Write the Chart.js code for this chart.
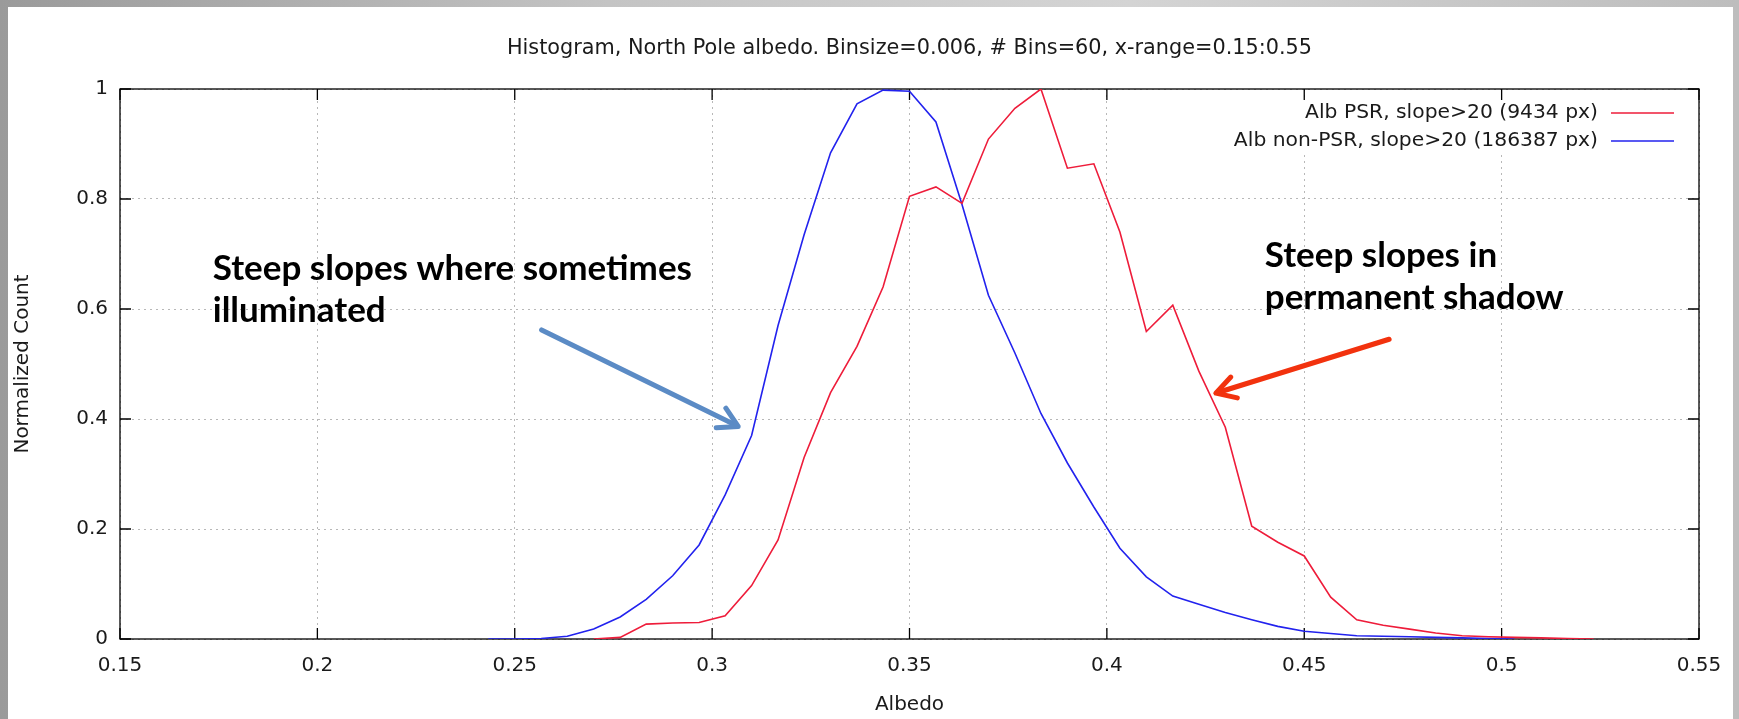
<!DOCTYPE html>
<html lang="en">
<head>
<meta charset="UTF-8">
<title>Histogram, North Pole albedo</title>
<script src="https://cdn.jsdelivr.net/npm/chart.js"></script>
<style>
    body {
        margin: 0;
        width: 1739px;
        height: 719px;
        overflow: hidden;
        background: linear-gradient(90deg, #9a9a9a 0%, #c4c4c4 35%, #d4d4d4 65%, #bdbdbd 100%);
    }
    .panel {
        position: absolute;
        left: 8px;
        top: 7px;
        width: 1725px;
        height: 712px;
        background: #fff;
    }
    canvas {
        position: absolute;
        left: 0;
        top: 0;
    }
</style>
</head>
<body>
<div class="panel"></div>
<canvas id="histChart" width="1739" height="719"></canvas>
<script>
    // bin positions (albedo), 60 bins over 0.15..0.55
    const albedo = [0.2433, 0.25, 0.2567, 0.2633, 0.27, 0.2767, 0.2833, 0.29, 0.2967, 0.3033,
                    0.31, 0.3167, 0.3233, 0.33, 0.3367, 0.3433, 0.35, 0.3567, 0.3633, 0.37,
                    0.3767, 0.3833, 0.39, 0.3967, 0.4033, 0.41, 0.4167, 0.4233, 0.43, 0.4367,
                    0.4433, 0.45, 0.4567, 0.4633, 0.47, 0.4767, 0.4833, 0.49, 0.4967, 0.5033,
                    0.51, 0.5167, 0.5233];
    // normalized counts, PSR (red)
    const psrCounts = [null, null, null, null, 0, 0.003, 0.027, 0.029, 0.030, 0.042,
                       0.097, 0.18, 0.33, 0.448, 0.532, 0.64, 0.805, 0.822, 0.792, 0.909,
                       0.965, 1.0, 0.856, 0.864, 0.74, 0.559, 0.607, 0.487, 0.385, 0.205,
                       0.176, 0.151, 0.076, 0.035, 0.025, 0.018, 0.011, 0.006, 0.004, 0.003,
                       0.002, 0.001, 0];
    // normalized counts, non-PSR (blue)
    const nonPsrCounts = [0, 0, 0.001, 0.005, 0.018, 0.04, 0.072, 0.115, 0.171, 0.262,
                          0.37, 0.57, 0.735, 0.884, 0.973, 0.998, 0.996, 0.94, 0.79, 0.625,
                          0.52, 0.41, 0.32, 0.24, 0.165, 0.113, 0.078, 0.063, 0.048, 0.035,
                          0.023, 0.014, 0.010, 0.006, 0.005, 0.004, 0.003, 0.002, 0.001, 0,
                          null, null, null];

    const xTicks = [0.15, 0.2, 0.25, 0.3, 0.35, 0.4, 0.45, 0.5, 0.55];
    const xTickLabels = ['0.15', '0.2', '0.25', '0.3', '0.35', '0.4', '0.45', '0.5', '0.55'];
    const yTicks = [0, 0.2, 0.4, 0.6, 0.8, 1];
    const yTickLabels = ['0', '0.2', '0.4', '0.6', '0.8', '1'];

    const seriesLabels = ['Alb PSR, slope>20 (9434 px)', 'Alb non-PSR, slope>20 (186387 px)'];
    const chartTitle = 'Histogram, North Pole albedo. Binsize=0.006, # Bins=60, x-range=0.15:0.55';

    // callouts placed in data units
    const notes = [
        { lines: ['Steep slopes where sometimes', 'illuminated'], x: 0.1735, y: 0.652 },
        { lines: ['Steep slopes in', 'permanent shadow'], x: 0.44, y: 0.677 }
    ];
    const arrows = [
        { from: [0.2568, 0.562], to: [0.3066, 0.3865], color: '#5b8bc5' },
        { from: [0.4715, 0.545], to: [0.4276, 0.447], color: '#f2320e' }
    ];

    const RED = '#ee1c3a';
    const BLUE = '#2222ee';
    const TEXT = '#1a1a1a';

    function toPoints(values) {
        return albedo.map((a, i) => ({ x: a, y: values[i] }));
    }

    function drawArrow(ctx, x0, y0, x1, y1, color) {
        const ang = Math.atan2(y1 - y0, x1 - x0);
        const head = 22, spread = 0.52;
        ctx.save();
        ctx.strokeStyle = color;
        ctx.lineWidth = 5;
        ctx.lineCap = 'round';
        ctx.lineJoin = 'round';
        ctx.beginPath();
        ctx.moveTo(x0, y0);
        ctx.lineTo(x1 - 3 * Math.cos(ang), y1 - 3 * Math.sin(ang));
        ctx.stroke();
        ctx.beginPath();
        ctx.moveTo(x1 - head * Math.cos(ang - spread), y1 - head * Math.sin(ang - spread));
        ctx.lineTo(x1, y1);
        ctx.lineTo(x1 - head * Math.cos(ang + spread), y1 - head * Math.sin(ang + spread));
        ctx.stroke();
        ctx.restore();
    }

    const gnuplotLook = {
        id: 'gnuplotLook',
        beforeDatasetsDraw(chart) {
            const { ctx, chartArea: a, scales: { x, y } } = chart;
            ctx.save();
            // key area hides the grid
            ctx.fillStyle = '#fff';
            ctx.fillRect(a.right - 478, a.top + 8, 470, 58);
            // border + inward ticks on all sides
            ctx.strokeStyle = '#000';
            ctx.lineWidth = 1.3;
            ctx.strokeRect(a.left, a.top, a.right - a.left, a.bottom - a.top);
            ctx.beginPath();
            xTicks.forEach(v => {
                const px = x.getPixelForValue(v);
                ctx.moveTo(px, a.bottom); ctx.lineTo(px, a.bottom - 11);
                ctx.moveTo(px, a.top); ctx.lineTo(px, a.top + 11);
            });
            yTicks.forEach(v => {
                const py = y.getPixelForValue(v);
                ctx.moveTo(a.left, py); ctx.lineTo(a.left + 11, py);
                ctx.moveTo(a.right, py); ctx.lineTo(a.right - 11, py);
            });
            ctx.stroke();
            ctx.restore();
        },
        afterDatasetsDraw(chart) {
            const { ctx, chartArea: a, scales: { x, y } } = chart;
            ctx.save();
            ctx.fillStyle = TEXT;
            ctx.textBaseline = 'middle';

            // title
            ctx.font = '20.8px "DejaVu Sans"';
            ctx.textAlign = 'center';
            ctx.fillText(chartTitle, (a.left + a.right) / 2, 49);

            // key
            ctx.font = '20.3px "DejaVu Sans"';
            ctx.textAlign = 'right';
            chart.data.datasets.forEach((ds, i) => {
                const ry = a.top + 24 + i * 28;
                ctx.fillStyle = TEXT;
                ctx.fillText(ds.label, a.right - 101, ry);
                ctx.strokeStyle = ds.borderColor;
                ctx.lineWidth = 1.6;
                ctx.beginPath();
                ctx.moveTo(a.right - 88, ry);
                ctx.lineTo(a.right - 25, ry);
                ctx.stroke();
            });

            // callout text
            ctx.fillStyle = '#000';
            ctx.font = 'bold 35px Lato';
            ctx.textAlign = 'left';
            ctx.textBaseline = 'alphabetic';
            notes.forEach(n => {
                const px = x.getPixelForValue(n.x);
                const py = y.getPixelForValue(n.y);
                n.lines.forEach((t, i) => ctx.fillText(t, px, py + i * 42));
            });
            ctx.restore();

            arrows.forEach(ar => {
                drawArrow(ctx,
                    x.getPixelForValue(ar.from[0]), y.getPixelForValue(ar.from[1]),
                    x.getPixelForValue(ar.to[0]), y.getPixelForValue(ar.to[1]),
                    ar.color);
            });
        }
    };

    Chart.defaults.font.family = '"DejaVu Sans", sans-serif';
    Chart.defaults.font.size = 20;
    Chart.defaults.color = TEXT;

    new Chart(document.getElementById('histChart'), {
        type: 'line',
        data: {
            datasets: [
                {
                    label: seriesLabels[0],
                    data: toPoints(psrCounts),
                    borderColor: RED,
                    borderWidth: 1.6,
                    pointRadius: 0,
                    tension: 0,
                    fill: false
                },
                {
                    label: seriesLabels[1],
                    data: toPoints(nonPsrCounts),
                    borderColor: BLUE,
                    borderWidth: 1.6,
                    pointRadius: 0,
                    tension: 0,
                    fill: false
                }
            ]
        },
        options: {
            responsive: false,
            animation: false,
            devicePixelRatio: 1,
            layout: { padding: { top: 89, right: 40, bottom: 0, left: 0 } },
            plugins: {
                legend: { display: false },
                tooltip: { enabled: false },
                title: { display: false }
            },
            scales: {
                x: {
                    type: 'linear',
                    min: 0.15,
                    max: 0.55,
                    afterBuildTicks: s => { s.ticks = xTicks.map(v => ({ value: v })); },
                    afterFit: s => { s.height = 80; },
                    ticks: {
                        autoSkip: false,
                        maxRotation: 0,
                        padding: 15,
                        callback: (v, i) => xTickLabels[i]
                    },
                    grid: { color: '#b8b8b8', lineWidth: 1, drawTicks: false },
                    border: { display: false, dash: [2, 4] },
                    title: { display: true, text: 'Albedo', padding: { top: 0, bottom: 2 } }
                },
                y: {
                    min: 0,
                    max: 1,
                    afterBuildTicks: s => { s.ticks = yTicks.map(v => ({ value: v })); },
                    afterFit: s => { s.width = 120; },
                    ticks: {
                        padding: 12,
                        callback: (v, i) => yTickLabels[i]
                    },
                    grid: { color: '#b8b8b8', lineWidth: 1, drawTicks: false },
                    border: { display: false, dash: [2, 4] },
                    title: { display: true, text: 'Normalized Count', padding: { top: 11, bottom: 0 } }
                }
            }
        },
        plugins: [gnuplotLook]
    });
</script>
</body>
</html>
